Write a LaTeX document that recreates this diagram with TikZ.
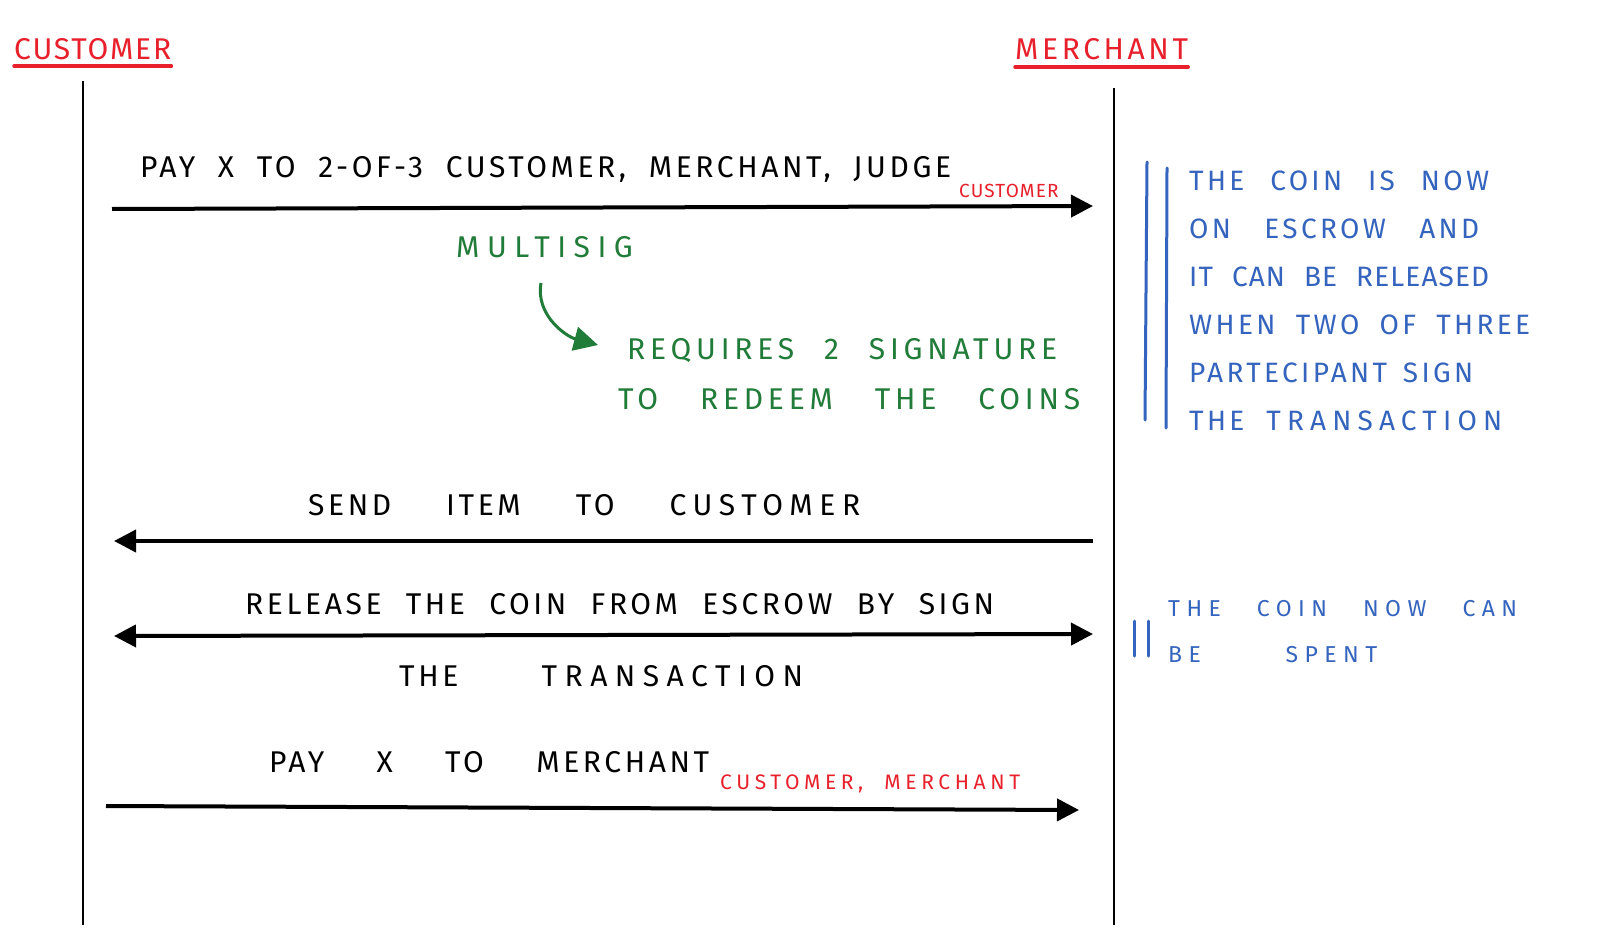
\documentclass[tikz,border=0pt]{standalone}
\usepackage{fontspec}
\usepackage{tikz}
\usetikzlibrary{arrows.meta}

\newfontfamily\hand[LetterSpace=6,WordSpace=2.2]{Fira Sans}
\newfontfamily\handwide[LetterSpace=12,WordSpace=2.2]{Fira Sans}
\definecolor{inkred}{RGB}{232,32,44}
\definecolor{inkgreen}{RGB}{32,124,56}
\definecolor{inkblue}{RGB}{52,100,190}

% spread the words of a line over a given width
\newcommand{\spread}[2]{\makebox[#1pt][s]{#2}}

\tikzset{
  title/.style={inner sep=0pt, text=inkred, font=\hand\fontsize{30}{32}\selectfont},
  underline/.style={inkred, line width=3.5pt, line cap=round},
  lifeline/.style={black, line width=2.5pt},
  msg/.style={black, line width=4pt, -{Triangle[length=22pt,width=22pt]}},
  msgboth/.style={black, line width=4pt, {Triangle[length=22pt,width=22pt]}-{Triangle[length=22pt,width=22pt]}},
  label/.style={inner sep=0pt, anchor=west, text=black, font=\handwide\fontsize{30}{32}\selectfont},
  signer/.style={inner sep=0pt, anchor=west, text=inkred, font=\handwide\fontsize{21}{23}\selectfont\addfontfeatures{LetterSpace=22}},
  remark/.style={inner sep=0pt, anchor=west, text=inkgreen, font=\handwide\fontsize{30}{32}\selectfont\addfontfeatures{LetterSpace=16}},
  pointer/.style={inkgreen, line width=3pt, -{Triangle[length=24pt,width=24pt]}},
  note/.style={inner sep=0pt, anchor=north west, align=left, text=inkblue},
  notebar/.style={inkblue, line width=3pt, line cap=round}
}

\begin{document}
\begin{tikzpicture}[x=1pt,y=-1pt]
        \fill[white] (0,0) rectangle (1624,934);
        \useasboundingbox (0,0) rectangle (1624,934);

        % Draw the two participants
        \node[title, anchor=south west] (customer) at (14,60) {CUSTOMER};
        \node[title, anchor=south west] (merchant) at (1015,60) {\addfontfeatures{LetterSpace=12}MERCHANT};
        \draw[underline] ([yshift=-6pt]customer.south west) -- ([yshift=-6pt]customer.south east);
        \draw[underline] ([yshift=-7pt]merchant.south west) -- ([yshift=-7pt]merchant.south east);

        % Draw the lifelines
        \coordinate (ctop) at (83,81);
        \coordinate (cbot) at (83,925);
        \coordinate (mtop) at (1114,88);
        \coordinate (mbot) at (1114,925);
        \draw[lifeline] (ctop) -- (cbot);
        \draw[lifeline] (mtop) -- (mbot);

        % Draw the payment into escrow
        \coordinate (c1) at (112,209);
        \coordinate (m1) at (1093,206);
        \draw[msg] (c1) -- (m1);
        \node[label] (pay1) at (140,169) {\spread{811}{PAY X TO 2-OF-3 CUSTOMER, MERCHANT, JUDGE}};
        \node[signer, font=\hand\fontsize{19}{21}\selectfont] (sig1) at (959,191) {CUSTOMER};

        % Draw the multisig remark
        \node[remark] (multisig) at (456,247) {\addfontfeatures{LetterSpace=25}MULTISIG};
        \node[remark] (req1) at (627,351) {\spread{430}{REQUIRES 2 SIGNATURE}};
        \node[remark] (req2) at (618,399) {\spread{462}{TO REDEEM THE COINS}};
        \draw[pointer] ([xshift=85pt,yshift=-36pt]multisig.west) to[out=-100,in=165] ([xshift=-29pt,yshift=6pt]req1.west);

        % Draw the item delivery
        \coordinate (c2) at (114,541);
        \coordinate (m2) at (1093,541);
        \draw[msg] (m2) -- (c2);
        \node[label] (send) at (308,505) {\spread{552}{SEND ITEM TO \addfontfeatures{LetterSpace=22}CUSTOMER}};

        % Draw the release from escrow
        \coordinate (c3) at (114,636);
        \coordinate (m3) at (1093,634);
        \draw[msgboth] (c3) -- (m3);
        \node[label] (rel1) at (245,604) {\spread{749}{RELEASE THE COIN FROM ESCROW BY SIGN}};
        \node[label] (rel2) at (399,676) {\spread{404}{THE \addfontfeatures{LetterSpace=25}TRANSACTION}};

        % Draw the final payment
        \coordinate (c4) at (106,806);
        \coordinate (m4) at (1079,810);
        \draw[msg] (c4) -- (m4);
        \node[label] (pay2) at (269,762) {\spread{440}{PAY X TO MERCHANT}};
        \node[signer] (sig2) at (720,784) {\spread{300}{CUSTOMER, MERCHANT}};

        % Draw the notes on the right
        \draw[notebar] (1147,162) -- (1145,420);
        \draw[notebar] (1167,168) -- (1166,428);
        \node[note, font=\handwide\fontsize{28}{48}\selectfont] (note1) at (1189,171) {\spread{300}{THE COIN IS NOW}\\\spread{290}{ON ESCROW AND}\\\spread{300}{\addfontfeatures{LetterSpace=4}IT CAN BE RELEASED}\\\spread{341}{WHEN TWO OF THREE}\\\spread{282}{PARTECIPANT SIGN}\\\spread{313}{THE \addfontfeatures{LetterSpace=22}TRANSACTION}};

        \draw[notebar] (1134,621) -- (1134,656);
        \draw[notebar] (1148,621) -- (1148,656);
        \node[note, font=\handwide\fontsize{23}{46}\selectfont\addfontfeatures{LetterSpace=28}] (note2) at (1168,600) {\spread{349}{THE COIN NOW CAN}\\\spread{209}{BE SPENT}};
\end{tikzpicture}
\end{document}
